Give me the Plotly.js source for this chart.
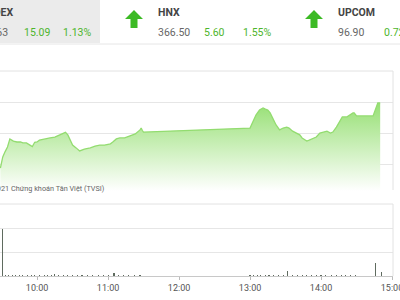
<!DOCTYPE html>
<html>
<head>
<meta charset="utf-8">
<script src="https://cdn.plot.ly/plotly-3.0.1.min.js"></script>
<style>html,body{margin:0;padding:0;background:#fff;}#chart{width:400px;height:300px;}</style>
</head>
<body>
<div id="chart"></div>
<script>
// ---- data ----
const DAY = '2021-09-16 ';
const indexTimes = ['09:29','09:31','09:33','09:35','09:37','09:40','09:43','09:46','09:48','09:51','09:54','09:56','09:58','10:00','10:02','10:05','10:07','10:11','10:15','10:19','10:22','10:24','10:26','10:28','10:30','10:33','10:36','10:40','10:45','10:49','10:53','10:57','11:02','11:04','11:07','11:10','11:14','11:18','11:23','11:27','11:28','11:29','11:30',
 '13:00','13:02','13:05','13:08','13:11','13:13','13:15','13:17','13:19','13:22','13:25','13:28','13:31','13:33','13:36','13:39','13:42','13:44','13:48','13:50','13:53','13:56','13:59','14:05','14:08','14:10','14:13','14:16','14:18','14:22','14:24','14:27','14:28','14:30','14:44','14:46','14:48','14:50'];
const indexValues = [1328.7,1332.3,1334.0,1335.5,1338.1,1337.4,1337.1,1337.1,1336.8,1336.8,1336.1,1335.6,1337.0,1337.1,1337.7,1338.0,1338.1,1338.4,1338.7,1339.3,1340.0,1340.2,1339.4,1337.7,1336.1,1335.2,1334.2,1334.8,1335.2,1335.8,1336.1,1336.1,1336.5,1337.1,1338.1,1338.4,1338.4,1339.0,1339.7,1341.0,1341.6,1340.8,1340.3,
 1341.6,1343.5,1345.8,1347.4,1348.1,1347.7,1347.4,1346.5,1344.8,1342.6,1341.0,1341.6,1341.9,1341.6,1340.6,1340.0,1339.4,1338.4,1337.4,1337.7,1338.1,1338.7,1340.0,1340.6,1340.0,1340.3,1341.9,1344.2,1345.2,1345.2,1345.8,1346.5,1346.5,1345.5,1345.5,1347.4,1349.7,1349.7];
const volTimes = ['09:31','09:33','09:36','09:39','09:42','09:45','09:48','09:52','09:55','09:58','10:02','10:06','10:09','10:12','10:15','10:18','10:22','10:26','10:30','10:34','10:38','10:43','10:47','10:52','10:56','11:00','11:05','11:09','11:13','11:17','11:22','11:27',
 '13:00','13:03','13:06','13:09','13:13','13:16','13:20','13:24','13:28','13:32','13:36','13:40','13:44','13:48','13:52','13:56','14:00','14:04','14:09','14:13','14:17','14:21','14:25','14:29','14:46','14:51'];
const volValues = [9.8,0.2,0.25,0.2,0.15,0.25,0.2,0.2,0.15,0.2,0.2,0.15,0.3,0.2,0.35,0.2,0.15,0.2,0.15,0.2,0.15,0.2,0.15,0.2,0.15,0.2,0.6,0.2,0.15,0.2,0.15,0.2,
 0.2,0.15,0.2,0.15,0.2,0.15,0.2,0.15,0.2,1.0,0.2,0.15,0.2,0.25,0.2,0.15,0.2,0.15,0.2,0.15,0.2,0.15,0.2,0.15,2.7,0.8];
const boardNames = ['VNINDEX','HNX','UPCOM'];
const boardValues = ['1350.63','366.50','96.90'];
const boardChanges = ['15.09','5.60','0.72'];
const boardPercents = ['1.13%','1.55%','0.72%'];
const watermark = '©2021 Chứng khoán Tân Việt (TVSI)';

// ---- layout helpers (pixel -> paper) ----
const L = 0, R = 7, T = 71, B = 24, W = 400, H = 300;
const PW = W - L - R, PH = H - T - B;
const px = x => (x - L) / PW;
const py = y => (H - B - y) / PH;

const FONT = 'Roboto, sans-serif';
const green = '#4db52b';
const arrowGreen = '#3cba25';
const annotations = [];
const shapes = [];

// header background & separator
shapes.push({type:'rect', xref:'paper', yref:'paper', x0:px(-5), x1:px(100), y0:py(43), y1:py(-5), fillcolor:'#ebebeb', line:{width:0}, layer:'below'});
shapes.push({type:'line', xref:'paper', yref:'paper', x0:px(-5), x1:px(405), y0:py(44), y1:py(44), line:{color:'#e6e6e6', width:1}});

boardNames.forEach((name, i) => {
  const off = 180 * i;
  annotations.push({xref:'paper', yref:'paper', x: i === 0 ? px(15) : px(-24 + off), y:py(13), xanchor: i === 0 ? 'right' : 'left', yanchor:'middle', showarrow:false,
    text:'<b>' + name + '</b>', font:{family:FONT, size:10.5, color:'#444'}});
  annotations.push({xref:'paper', yref:'paper', x: i === 0 ? px(10) : px(-24 + off), y:py(32), xanchor: i === 0 ? 'right' : 'left', yanchor:'middle', showarrow:false,
    text: boardValues[i], font:{family:FONT, size:10.5, color:'#666'}});
  annotations.push({xref:'paper', yref:'paper', x:px(22 + off), y:py(32), xanchor:'left', yanchor:'middle', showarrow:false,
    text: boardChanges[i], font:{family:FONT, size:10.5, color:green}});
  annotations.push({xref:'paper', yref:'paper', x:px(93 + off), y:py(32), xanchor:'right', yanchor:'middle', showarrow:false,
    text: boardPercents[i], font:{family:FONT, size:10.5, color:green}});
  if (i > 0) {
    const ax = -55 + off;
    const pts = [[ax,19],[ax+9,10],[ax+18,19],[ax+12.5,19],[ax+12.5,28],[ax+5.5,28],[ax+5.5,19]];
    const path = 'M ' + pts.map(p => px(p[0]) + ',' + py(p[1])).join(' L ') + ' Z';
    shapes.push({type:'path', xref:'paper', yref:'paper', path:path, fillcolor:arrowGreen, line:{width:0}});
  }
});

// watermark
annotations.push({xref:'paper', yref:'paper', x:px(107), y:py(188), xanchor:'right', yanchor:'middle', showarrow:false,
  text: watermark, font:{family:FONT, size:7.3, color:'#666'}});

// panel borders
shapes.push({type:'line', xref:'paper', yref:'y domain', x0:1, x1:1, y0:0.04, y1:1, line:{color:'#e2e2e2', width:1}});
shapes.push({type:'line', xref:'paper', yref:'y domain', x0:0, x1:1, y0:1, y1:1, line:{color:'#e2e2e2', width:1}});
shapes.push({type:'line', xref:'paper', yref:'y2 domain', x0:1, x1:1, y0:0, y1:1, line:{color:'#e2e2e2', width:1}});
shapes.push({type:'line', xref:'paper', yref:'y2 domain', x0:0, x1:1, y0:1, y1:1, line:{color:'#e2e2e2', width:1}});

const traces = [
  {type:'scatter', mode:'lines', x:indexTimes.map(t => DAY + t), y:indexValues, xaxis:'x', yaxis:'y',
   line:{color:'#93dc70', width:1.3}, fill:'tozeroy',
   fillgradient:{type:'vertical', start:1321, stop:1349, colorscale:[[0,'rgba(255,255,255,1)'],[1,'rgb(152,224,118)']]},
   hoverinfo:'skip'},
  {type:'bar', x:volTimes.map(t => DAY + t), y:volValues, xaxis:'x', yaxis:'y2', width:55000,
   marker:{color:'#5f6b5f', line:{width:0}}, hoverinfo:'skip'}
];

const layout = {
  width:W, height:H, margin:{l:L, r:R, t:T, b:B, pad:0},
  paper_bgcolor:'#fff', plot_bgcolor:'rgba(0,0,0,0)', showlegend:false, bargap:0,
  xaxis:{type:'date', anchor:'y2', range:[DAY+'09:28:40', DAY+'15:00:50'], dtick:3600000, tick0:DAY+'10:00',
    tickformat:'%H:%M', ticks:'outside', ticklen:3, tickcolor:'#bbb', showgrid:false, showline:true, linecolor:'#c8c8c8',
    tickfont:{family:'Roboto', size:9, color:'#555'}, ticklabeloverflow:'allow', zeroline:false},
  yaxis:{domain:[py(195), 1], range:[1320, 1360], dtick:10, tick0:1320, showticklabels:false, gridcolor:'#e6e6e6', zeroline:false, ticks:''},
  yaxis2:{domain:[0, py(204)], range:[0, 15], dtick:5, showticklabels:false, gridcolor:'#e6e6e6', zeroline:false, ticks:''},
  shapes:shapes, annotations:annotations
};

Plotly.newPlot('chart', traces, layout, {staticPlot:true, displayModeBar:false});
</script>
</body>
</html>
